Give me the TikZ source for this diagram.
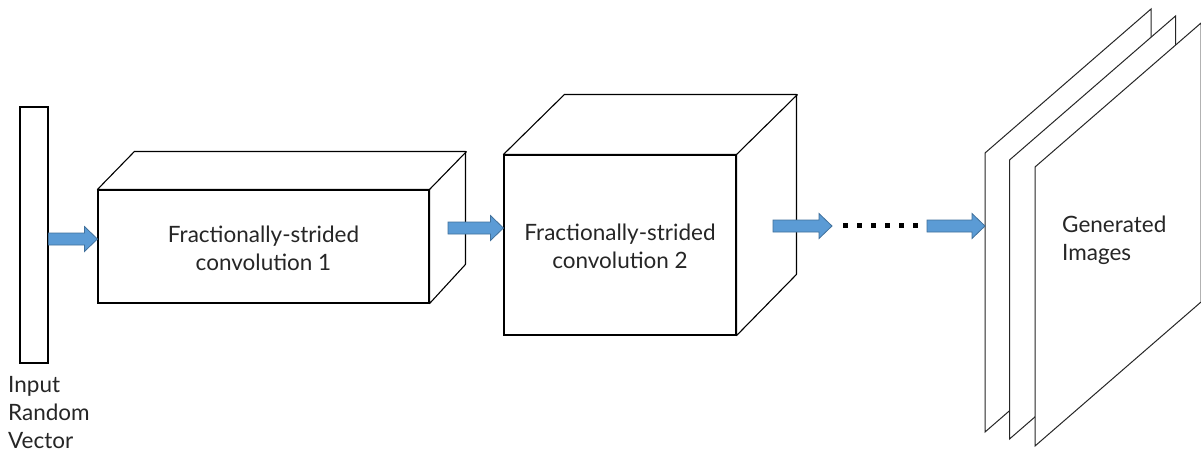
\documentclass[tikz,border=0pt]{standalone}
\usepackage{fontspec}
\setmainfont{Lato}
\usetikzlibrary{calc}
\definecolor{arrfill}{HTML}{5B9BD5}
\definecolor{arrline}{HTML}{41719C}
\definecolor{txt}{HTML}{262626}
\newcommand{\blockarrow}[2]{%
  \filldraw[blockarr] let \p1=(#1), \p2=(#2) in
  (\x1,\y1+6pt) -- (\x2-13pt,\y1+6pt) -- (\x2-13pt,\y1+12.5pt) -- (\x2,\y1)
  -- (\x2-13pt,\y1-12.5pt) -- (\x2-13pt,\y1-6pt) -- (\x1,\y1-6pt) -- cycle;}
\tikzset{
  box/.style={draw=black, line width=1.1pt, fill=white, inner sep=0pt},
  edge3d/.style={draw=black, line width=1.1pt, line join=round},
  blockarr/.style={fill=arrfill, draw=arrline, line width=0.8pt},
  panel/.style={fill=white, draw=black!85, line width=1pt},
  lbl/.style={text=txt, font=\fontsize{22.5pt}{28pt}\selectfont, inner sep=0pt},
}
\begin{document}
\begin{tikzpicture}[x=1pt,y=-1pt]
\useasboundingbox (0,0) rectangle (1201,451);
\clip (0,0) rectangle (1201,451);
\fill[white] (0,0) rectangle (1201,451);

% input vector
\node[box, minimum width=28pt, minimum height=256pt] (vec) at (34,235) {};
\node[lbl, align=left, anchor=north west] (veclbl) at (8,376) {Input\\Random\\Vector};

% box 1
\node[box, minimum width=331pt, minimum height=113pt] (b1) at (263.5,246.5) {};
\draw[edge3d, fill=white] (b1.north west) -- ++(37,-38) -- ++(331,0) -- ++(0,113) -- (b1.south east) -- (b1.north east) -- cycle;
\draw[edge3d] (b1.north east) -- ++(37,-38);
\node[lbl, align=center] (b1lbl) at ($(b1.center)+(0,2)$) {Fractionally-strided\\convolution 1};

% box 2
\node[box, minimum width=232pt, minimum height=180pt] (b2) at (620,245) {};
\draw[edge3d, fill=white] (b2.north west) -- ++(61,-60) -- ++(232,0) -- ++(0,180) -- (b2.south east) -- (b2.north east) -- cycle;
\draw[edge3d] (b2.north east) -- ++(61,-60);
\node[lbl, align=center] (b2lbl) at ($(b2.center)+(0,1)$) {Fractionally-strided\\convolution 2};

% panels
\foreach \dx/\dy in {0/0, 24.5/7, 50/14}{
  \filldraw[panel] (985+\dx,153+\dy) -- ++(166,-144) -- ++(0,279) -- ++(-166,144) -- cycle;
}
\coordinate (p1w) at (985,226);
\node[lbl, align=left, anchor=north west] (genlbl) at (1062,216) {Generated\\Images};

% arrows
\blockarrow{vec.east |- 0,239}{b1.west |- 0,239}
\coordinate (a2s) at (448,228);
\blockarrow{a2s}{b2.west |- a2s}
\coordinate (a3s) at (773,226);
\coordinate (a3e) at (832,226);
\blockarrow{a3s}{a3e}
\coordinate (dots) at (843,222.5);
\foreach \i in {0,...,5}{
  \fill[black] ($(dots)+(\i*13.9,0)$) rectangle ++(5,5);
}
\coordinate (a4s) at (927,226);
\blockarrow{a4s}{p1w}
\end{tikzpicture}
\end{document}
